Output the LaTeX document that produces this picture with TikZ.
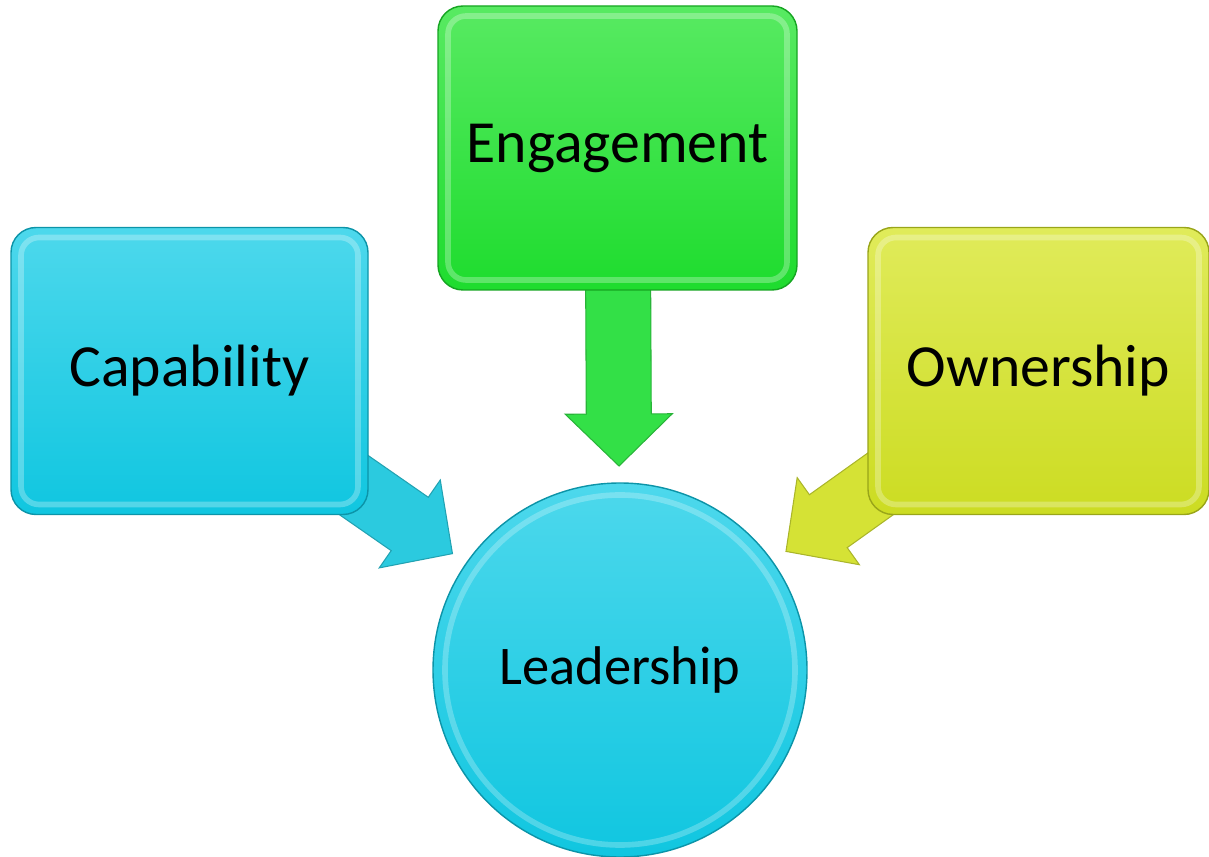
\documentclass[tikz,border=0pt]{standalone}
\usepackage{fontspec}
\setmainfont{Carlito}
\usepackage{xcolor}
\usetikzlibrary{calc,backgrounds}
\definecolor{cyantop}{HTML}{4DD8EC}
\definecolor{cyanbot}{HTML}{10C6E0}
\definecolor{greentop}{HTML}{58EA62}
\definecolor{greenbot}{HTML}{1EDC2E}
\definecolor{yellowtop}{HTML}{E0EB5A}
\definecolor{yellowbot}{HTML}{CCDC22}
\definecolor{cyanarrow}{HTML}{2BCADF}
\definecolor{greenarrow}{HTML}{33E047}
\definecolor{yellowarrow}{HTML}{D5E235}
\tikzset{
	pillar/.style={
			rectangle, rounded corners=0.25cm, inner sep=0pt,
			top color=#1top, bottom color=#1bot, draw=#1bot!75!black, line width=0.4pt,
			font=\fontsize{17}{20}\selectfont,
			path picture={\draw[white, opacity=0.28, line width=1.6pt, rounded corners=0.18cm]
					([shift={(0.1,-0.1)}]path picture bounding box.north west) rectangle
					([shift={(-0.1,0.1)}]path picture bounding box.south east);}
		},
	hub/.style={
			circle, inner sep=0pt, minimum size=3.74cm,
			top color=cyantop, bottom color=cyanbot, draw=cyanbot!75!black, line width=0.4pt,
			font=\fontsize{15.5}{18}\selectfont,
			path picture={\draw[white, opacity=0.25, line width=1.6pt]
					(path picture bounding box.center) circle (1.75cm);}
		}
}
% block arrow: #1 start, #2 tip, #3 colour
\newcommand{\bigarrow}[3]{
	\coordinate (hb) at ($(#2)!0.52cm!(#1)$);
	\fill[#3, draw=#3!80!black, line width=0.3pt]
		($(#1)!0.325cm!90:(#2)$) -- ($(hb)!0.325cm!90:(#2)$) -- ($(hb)!0.535cm!90:(#2)$)
		-- (#2) -- ($(hb)!0.535cm!-90:(#2)$) -- ($(hb)!0.325cm!-90:(#2)$)
		-- ($(#1)!0.325cm!-90:(#2)$) -- cycle;
}

\begin{document}
\begin{tikzpicture}
        \useasboundingbox (0, 0) rectangle (12.09, 8.57);
        \node[pillar=green, minimum width=3.59cm, minimum height=2.84cm] (eng) at (6.175, 7.09) {Engagement};
        \node[pillar=cyan, minimum width=3.57cm, minimum height=2.87cm] (cap) at (1.895, 4.86) {Capability};
        \node[pillar=yellow, minimum width=3.41cm, minimum height=2.87cm] (own) at (10.385, 4.86) {Ownership};
        \node[hub] (lead) at (6.2, 1.87) {Leadership};
        \coordinate (engtip) at ($(lead.center)!2.04cm!(eng.center)$);
        \coordinate (captip) at ($(lead.center)!2.04cm!(cap.center)$);
        \coordinate (owntip) at ($(lead.center)!2.04cm!(own.center)$);
        \begin{pgfonlayer}{background}
            \bigarrow{eng.center}{engtip}{greenarrow}
            \bigarrow{cap.center}{captip}{cyanarrow}
            \bigarrow{own.center}{owntip}{yellowarrow}
        \end{pgfonlayer}
    \end{tikzpicture}
\end{document}
